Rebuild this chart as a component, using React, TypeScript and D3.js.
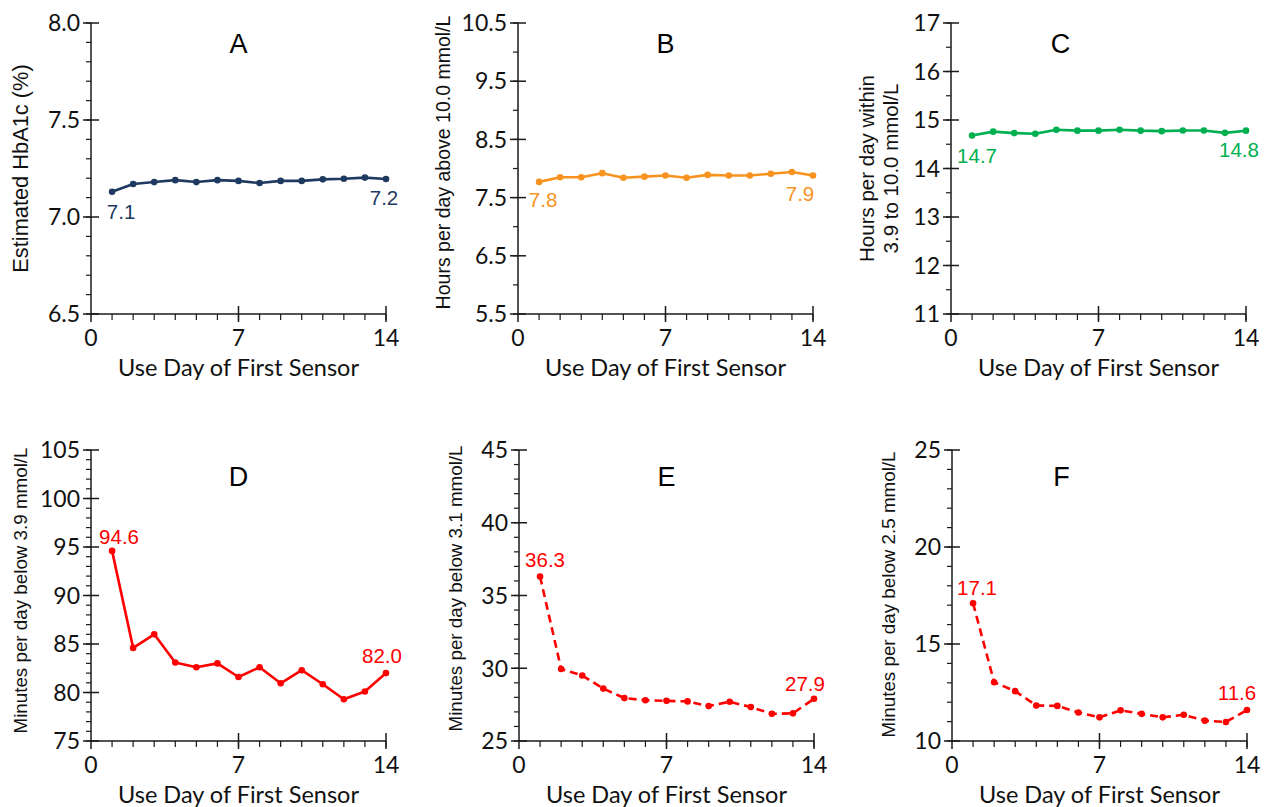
import React from 'react';
import { scaleLinear, line, range } from 'd3';

// use day of first sensor
const days = range(1, 15);

// A - estimated HbA1c (%)
const hba1c = [7.13, 7.17, 7.18, 7.19, 7.18, 7.19, 7.186, 7.175, 7.186, 7.186, 7.194, 7.197, 7.203, 7.196];
// B - hours per day above 10.0 mmol/L
const hoursAbove = [7.77, 7.85, 7.85, 7.92, 7.84, 7.86, 7.88, 7.84, 7.89, 7.88, 7.88, 7.91, 7.94, 7.88];
// C - hours per day within 3.9 to 10.0 mmol/L
const hoursWithin = [14.68, 14.76, 14.73, 14.715, 14.8, 14.78, 14.78, 14.8, 14.78, 14.77, 14.785, 14.785, 14.735, 14.78];
// D - minutes per day below 3.9 mmol/L
const minBelow39 = [94.6, 84.6, 86.0, 83.1, 82.6, 83.0, 81.6, 82.6, 80.95, 82.3, 80.85, 79.3, 80.1, 82.0];
// E - minutes per day below 3.1 mmol/L
const minBelow31 = [36.3, 29.95, 29.5, 28.6, 27.95, 27.8, 27.76, 27.72, 27.4, 27.7, 27.33, 26.87, 26.9, 27.9];
// F - minutes per day below 2.5 mmol/L
const minBelow25 = [17.1, 13.03, 12.57, 11.83, 11.81, 11.47, 11.22, 11.58, 11.4, 11.22, 11.35, 11.05, 10.98, 11.6];

const xTickLabels = [0, 7, 14];

const labelFont = '"Liberation Sans", Arial, sans-serif';
const tickFont = 'Lato, "Open Sans", sans-serif';
const axisColor = '#1a1a1a';

function Panel({ cfg }) {
  const x = scaleLinear().domain([0, 14]).range([cfg.left, cfg.right]);
  const y = scaleLinear().domain(cfg.domain).range([cfg.bottom, cfg.top]);

  const minorY = range(cfg.domain[0], cfg.domain[1] + cfg.minor / 2, cfg.minor);
  const majorY = range(cfg.domain[0], cfg.domain[1] + cfg.major / 2, cfg.major);

  const path = line()
    .x((d, i) => x(days[i]))
    .y(d => y(d))(cfg.values);

  const first = cfg.values[0];
  const last = cfg.values[cfg.values.length - 1];

  return (
    <g>
      {/* y axis */}
      <line x1={cfg.left} x2={cfg.left} y1={cfg.top} y2={cfg.bottom} stroke={axisColor} strokeWidth={1.5} />
      {minorY.map((v, i) => (
        <line key={'mn' + i} x1={cfg.left - 5} x2={cfg.left} y1={y(v)} y2={y(v)} stroke={axisColor} strokeWidth={1.2} />
      ))}
      {majorY.map((v, i) => (
        <g key={'mj' + i}>
          <line x1={cfg.left - 8} x2={cfg.left + 8} y1={y(v)} y2={y(v)} stroke={axisColor} strokeWidth={1.5} />
          <text x={cfg.left - 11} y={y(v)} dy="0.36em" textAnchor="end" fontFamily={tickFont} fontSize={23} fill="#111">
            {cfg.fmt(v)}
          </text>
        </g>
      ))}

      {/* x axis */}
      <line x1={cfg.left} x2={cfg.right} y1={cfg.bottom} y2={cfg.bottom} stroke={axisColor} strokeWidth={1.5} />
      {days.map(d => (
        <line key={'xd' + d} x1={x(d)} x2={x(d)} y1={cfg.bottom} y2={cfg.bottom + 6} stroke={axisColor} strokeWidth={1.2} />
      ))}
      {xTickLabels.map(d => (
        <g key={'xt' + d}>
          <line x1={x(d)} x2={x(d)} y1={d === 0 ? cfg.bottom : cfg.bottom - 8} y2={cfg.bottom + 8} stroke={axisColor} strokeWidth={1.5} />
          <text x={x(d)} y={cfg.bottom + 32} textAnchor="middle" fontFamily={tickFont} fontSize={23} fill="#111">
            {d}
          </text>
        </g>
      ))}
      <text x={x(7)} y={cfg.bottom + 62} textAnchor="middle" fontFamily={tickFont} fontSize={23.5} fill="#111">
        Use Day of First Sensor
      </text>

      {/* y title */}
      {cfg.yTitle.map((t, i) => (
        <text
          key={'yt' + i}
          transform={`translate(${cfg.left + cfg.yTitleDx[i]},${(cfg.top + cfg.bottom) / 2 + cfg.yTitleDy}) rotate(-90)`}
          textAnchor="middle"
          dominantBaseline="middle"
          fontFamily={labelFont}
          fontSize={cfg.yTitleSize}
          fill="#111"
        >
          {t}
        </text>
      ))}

      {/* panel letter */}
      <text x={x(cfg.letterDay)} y={cfg.top + cfg.letterDy} textAnchor="middle" fontFamily={labelFont} fontSize={27} fill="#000">
        {cfg.letter}
      </text>

      {/* series */}
      <path d={path} fill="none" stroke={cfg.color} strokeWidth={2.6} strokeDasharray={cfg.dashed ? '8,5' : null} strokeLinejoin="round" />
      {cfg.values.map((v, i) => (
        <circle key={'pt' + i} cx={x(days[i])} cy={y(v)} r={3.3} fill={cfg.color} />
      ))}

      <text x={x(days[0]) + cfg.firstOff[0]} y={y(first) + cfg.firstOff[1]} textAnchor="middle" fontFamily={labelFont} fontSize={20.5} fill={cfg.color}>
        {first.toFixed(1)}
      </text>
      <text x={x(days[13]) + cfg.lastOff[0]} y={y(last) + cfg.lastOff[1]} textAnchor="middle" fontFamily={labelFont} fontSize={20.5} fill={cfg.color}>
        {last.toFixed(1)}
      </text>
    </g>
  );
}

const panels = [
  {
    letter: 'A', values: hba1c, domain: [6.5, 8.0], minor: 0.1, major: 0.5, fmt: v => v.toFixed(1),
    left: 91, right: 386, top: 23, bottom: 314, color: '#1F3A60',
    yTitle: ['Estimated HbA1c (%)'], yTitleDx: [-69], yTitleDy: 0, yTitleSize: 21.8,
    letterDay: 7, letterDy: 30, firstOff: [9, 27], lastOff: [-2, 26], dashed: false,
  },
  {
    letter: 'B', values: hoursAbove, domain: [5.5, 10.5], minor: 0.5, major: 1, fmt: v => v.toFixed(1),
    left: 518, right: 813, top: 23, bottom: 314, color: '#F7931E',
    yTitle: ['Hours per day above 10.0 mmol/L'], yTitleDx: [-73], yTitleDy: -6, yTitleSize: 19.5,
    letterDay: 7, letterDy: 30, firstOff: [4, 25], lastOff: [-13, 26], dashed: false,
  },
  {
    letter: 'C', values: hoursWithin, domain: [11, 17], minor: 0.5, major: 1, fmt: v => v.toFixed(0),
    left: 951, right: 1246, top: 23, bottom: 314, color: '#00B050',
    yTitle: ['Hours per day within', '3.9 to 10.0 mmol/L'], yTitleDx: [-82, -58], yTitleDy: 0, yTitleSize: 20.5,
    letterDay: 5.2, letterDy: 30, firstOff: [5, 27], lastOff: [-7, 26], dashed: false,
  },
  {
    letter: 'D', values: minBelow39, domain: [75, 105], minor: 1, major: 5, fmt: v => v.toFixed(0),
    left: 91, right: 386, top: 450, bottom: 741, color: '#FF0000',
    yTitle: ['Minutes per day below 3.9 mmol/L'], yTitleDx: [-69], yTitleDy: -5, yTitleSize: 18.8,
    letterDay: 7, letterDy: 36, firstOff: [7, -7], lastOff: [-4, -10], dashed: false,
  },
  {
    letter: 'E', values: minBelow31, domain: [25, 45], minor: 1, major: 5, fmt: v => v.toFixed(0),
    left: 519, right: 814, top: 450, bottom: 741, color: '#FF0000',
    yTitle: ['Minutes per day below 3.1 mmol/L'], yTitleDx: [-62], yTitleDy: -7, yTitleSize: 18.8,
    letterDay: 7, letterDy: 36, firstOff: [5, -10], lastOff: [-9, -8], dashed: true,
  },
  {
    letter: 'F', values: minBelow25, domain: [10, 25], minor: 1, major: 5, fmt: v => v.toFixed(0),
    left: 952, right: 1247, top: 450, bottom: 741, color: '#FF0000',
    yTitle: ['Minutes per day below 2.5 mmol/L'], yTitleDx: [-62], yTitleDy: -1, yTitleSize: 18.8,
    letterDay: 5.2, letterDy: 36, firstOff: [4, -8], lastOff: [-10, -10], dashed: true,
  },
];

export default function App() {
  return (
    <svg width={1268} height={807} style={{ position: 'absolute', left: 0, top: 0, background: '#fff' }}>
      {panels.map(p => (
        <Panel key={p.letter} cfg={p} />
      ))}
    </svg>
  );
}
